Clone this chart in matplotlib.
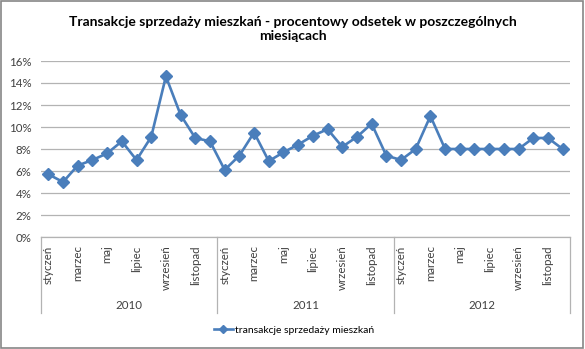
import matplotlib
matplotlib.use("Agg")
import matplotlib.pyplot as plt
from matplotlib.patches import Rectangle
from matplotlib.lines import Line2D
from matplotlib.ticker import FuncFormatter

plt.rcParams['font.family'] = ['Lato', 'DejaVu Sans']

years = ["2010", "2011", "2012"]
month_labels = ["styczeń", "marzec", "maj", "lipiec", "wrzesień", "listopad"]
values_2010 = [5.7, 5.0, 6.5, 7.0, 7.6, 8.7, 7.0, 9.1, 14.6, 11.1, 9.0, 8.7]
values_2011 = [6.1, 7.4, 9.5, 6.9, 7.7, 8.4, 9.2, 9.8, 8.2, 9.1, 10.3, 7.4]
values_2012 = [7.0, 8.0, 11.0, 8.0, 8.0, 8.0, 8.0, 8.0, 8.0, 9.0, 9.0, 8.0]
series_name = "transakcje sprzedaży mieszkań"

values = [v / 100 for v in values_2010 + values_2011 + values_2012]
x = list(range(len(values)))

W, H = 585, 349
fig = plt.figure(figsize=(W / 100, H / 100), dpi=100)
ax = fig.add_axes([41 / W, (H - 237) / H, (570 - 41) / W, (237 - 61) / H])

blue = "#4A7EBB"
line, = ax.plot(x, values, color=blue, lw=1.9, marker="D", ms=6,
                markerfacecolor=blue, markeredgecolor=blue, label=series_name)

ax.set_xlim(-0.5, len(values) - 0.5)
ax.set_ylim(0, 0.16)
ax.set_yticks([i / 100 for i in range(0, 17, 2)])
ax.yaxis.set_major_formatter(FuncFormatter(lambda v, p: f"{v * 100:.0f}%"))
ax.grid(axis="y", color="#B3B3B3", lw=0.9)
ax.set_axisbelow(True)
for s in ["top", "right", "left"]:
    ax.spines[s].set_visible(False)
ax.spines["bottom"].set_color("#B3B3B3")
ax.spines["bottom"].set_linewidth(0.9)

ticks = [i * 12 + j * 2 for i in range(len(years)) for j in range(len(month_labels))]
ax.set_xticks(ticks)
ax.set_xticklabels(month_labels * len(years), rotation=90, va="top", ha="center")
ax.tick_params(axis="x", length=0, pad=6, labelsize=8.3, colors="#404040")
ax.tick_params(axis="y", length=0, pad=7, labelsize=8.3, colors="#404040")

trans = ax.get_xaxis_transform()
for k in range(len(years) + 1):
    xs = k * 12 - 0.5
    ax.add_line(Line2D([xs, xs], [0, -0.432], transform=trans, color="#B3B3B3",
                       lw=0.9, clip_on=False))
for k, yr in enumerate(years):
    ax.text(k * 12 + 5.5, -0.392, yr, transform=trans, ha="center", va="center",
            fontsize=8.3, color="#404040")

fig.text(0.5, 1 - 29 / H, "Transakcje sprzedaży mieszkań - procentowy odsetek w poszczególnych\nmiesiącach",
         ha="center", va="center", fontsize=10, fontweight="bold", linespacing=1.2)

fig.legend(handles=[line], loc="center", bbox_to_anchor=(294 / W, 1 - 330 / H),
           frameon=False, fontsize=7.5, handlelength=1.8, handletextpad=0.2,
           markerscale=0.7)

fig.patches.append(Rectangle((0.002, 0.004), 0.994, 0.992, transform=fig.transFigure,
                             fill=False, edgecolor="#868686", lw=1.2))

fig.savefig("out.png", dpi=100)
